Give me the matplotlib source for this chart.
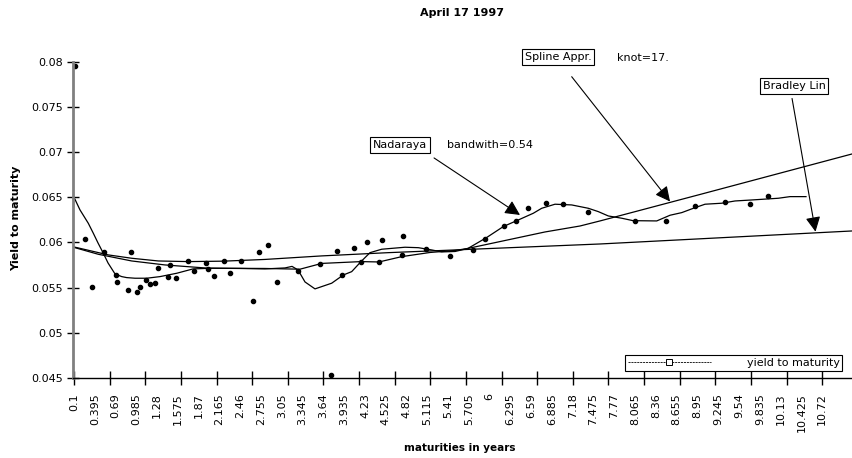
import numpy as np
import matplotlib
matplotlib.use("Agg")
import matplotlib.pyplot as plt
from matplotlib.lines import Line2D

plt.rcParams["font.family"] = ["DejaVu Sans"]

# observed yields (maturity in years, yield)
maturity = [0.118, 0.260, 0.360, 0.526, 0.700, 0.710, 0.867, 0.909, 0.990, 1.041,
            1.122, 1.183, 1.246, 1.292, 1.430, 1.467, 1.552, 1.723, 1.799, 1.978,
            2.007, 2.092, 2.225, 2.310, 2.471, 2.637, 2.731, 2.850, 2.986, 3.276,
            3.588, 3.748, 3.834, 3.909, 4.079, 4.174, 4.255, 4.430, 4.468, 4.756,
            4.775, 5.093, 5.438, 5.769, 5.935, 6.200, 6.370, 6.541, 6.796, 7.046,
            7.401, 8.064, 8.500, 8.920, 9.346, 9.697, 9.948]
ytm = [0.07956, 0.06039, 0.05511, 0.05892, 0.05637, 0.05560, 0.05475, 0.05892, 0.05456, 0.05504,
       0.05585, 0.05541, 0.05555, 0.05721, 0.05615, 0.05751, 0.05611, 0.05792, 0.05685, 0.05770,
       0.05704, 0.05626, 0.05792, 0.05666, 0.05792, 0.05350, 0.05892, 0.05972, 0.05563, 0.05685,
       0.05762, 0.04531, 0.05906, 0.05640, 0.05942, 0.05784, 0.06002, 0.05784, 0.06024, 0.05865,
       0.06072, 0.05928, 0.05854, 0.05917, 0.06035, 0.06179, 0.06238, 0.06385, 0.06440, 0.06429,
       0.06334, 0.06234, 0.06241, 0.06404, 0.06451, 0.06423, 0.06518]

# Nadaraya kernel estimate
nad_x = [0.1, 0.185, 0.303, 0.374, 0.441, 0.516, 0.583, 0.682, 0.777, 0.848,
         0.966, 1.132, 1.321, 1.558, 1.789, 2.055, 2.457, 2.811, 3.095, 3.195,
         3.280, 3.379, 3.521, 3.758, 3.923, 4.042, 4.174, 4.302, 4.468, 4.799,
         4.988, 5.178, 5.320, 5.509, 5.693, 5.959, 6.197, 6.385, 6.620, 6.739,
         6.928, 7.165, 7.401, 7.543, 7.685, 7.875, 8.036, 8.372, 8.561, 8.727,
         8.916, 9.058, 9.295, 9.484, 9.721, 10.098, 10.264, 10.491]
nad_y = [0.06500, 0.06360, 0.06212, 0.06102, 0.05994, 0.05881, 0.05773, 0.05652, 0.05622, 0.05611,
         0.05604, 0.05604, 0.05622, 0.05659, 0.05707, 0.05715, 0.05712, 0.05707, 0.05718, 0.05735,
         0.05696, 0.05563, 0.05486, 0.05549, 0.05640, 0.05677, 0.05788, 0.05887, 0.05925, 0.05947,
         0.05942, 0.05917, 0.05895, 0.05900, 0.05934, 0.06055, 0.06177, 0.06241, 0.06323, 0.06378,
         0.06423, 0.06415, 0.06378, 0.06341, 0.06293, 0.06268, 0.06241, 0.06238, 0.06301, 0.06330,
         0.06385, 0.06423, 0.06434, 0.06459, 0.06470, 0.06489, 0.06507, 0.06507]

# spline approximation
spl_x = [0.1, 0.445, 0.919, 1.392, 2.007, 2.811, 3.308, 3.616, 4.174, 4.430,
         4.752, 5.154, 5.509, 5.693, 6.786, 7.283, 7.567, 8.987, 11.144]
spl_y = [0.05945, 0.05869, 0.05795, 0.05751, 0.05715, 0.05712, 0.05704, 0.05768, 0.05788, 0.05784,
         0.05843, 0.05889, 0.05911, 0.05934, 0.06116, 0.06182, 0.06238, 0.06531, 0.06979]

# Bradley Lin
brad_x = [0.1, 0.587, 0.919, 1.297, 1.723, 2.225, 2.811, 3.616, 4.562, 5.509, 7.567, 11.144]
brad_y = [0.05950, 0.05862, 0.05825, 0.05795, 0.05788, 0.05793, 0.05812, 0.05851, 0.05887, 0.05917,
          0.05983, 0.06127]

x_labels = ["0.1", "0.395", "0.69", "0.985", "1.28", "1.575", "1.87", "2.165", "2.46", "2.755",
            "3.05", "3.345", "3.64", "3.935", "4.23", "4.525", "4.82", "5.115", "5.41", "5.705",
            "6", "6.295", "6.59", "6.885", "7.18", "7.475", "7.77", "8.065", "8.36", "8.655",
            "8.95", "9.245", "9.54", "9.835", "10.13", "10.425", "10.72"]
y_labels = ["0.045", "0.05", "0.055", "0.06", "0.065", "0.07", "0.075", "0.08"]

fig = plt.figure(figsize=(8.52, 4.58), dpi=100)
ax = fig.add_axes([73 / 852, 80 / 458, 779 / 852, 316.3 / 458])
ax.set_xlim(0.0858, 11.144)
ax.set_ylim(0.045, 0.08)

for s in ["top", "right"]:
    ax.spines[s].set_visible(False)
ax.spines["left"].set_color("#808080")
ax.spines["left"].set_linewidth(2)
ax.spines["bottom"].set_linewidth(1)

ax.set_yticks([float(v) for v in y_labels], y_labels)
ax.tick_params(axis="y", direction="inout", length=8, width=1, labelsize=8, pad=3)
ax.set_xticks([float(v) for v in x_labels], x_labels, rotation=90)
ax.tick_params(axis="x", which="major", length=0, pad=11, labelsize=8)
ax.xaxis.remove_overlapping_locs = False
ax.set_xticks(np.linspace(0.1, 10.72, 22), minor=True)
ax.tick_params(axis="x", which="minor", direction="inout", length=10, width=1)

# curves and points
ax.plot(nad_x, nad_y, color="black", lw=0.9)
ax.plot(spl_x, spl_y, color="black", lw=0.9, clip_on=False)
ax.plot(brad_x, brad_y, color="black", lw=0.9, clip_on=False)
ax.plot(maturity, ytm, "o", color="black", ms=3, clip_on=False)

box = dict(boxstyle="square,pad=0.25", fc="white", ec="black", lw=0.8)
arr = dict(arrowstyle="-|>,head_length=0.6,head_width=0.3", color="black",
           lw=0.8, mutation_scale=15, shrinkA=0, shrinkB=0)

def label(x, y, s, boxed=True):
    ax.text(x, y, s, fontsize=8, ha="center" if boxed else "left", va="center",
            bbox=box if boxed else None, clip_on=False)

def arrow(x1, y1, x2, y2):
    ax.annotate("", xy=(x2, y2), xytext=(x1, y1), arrowprops=arr, annotation_clip=False)

label(4.728, 0.0708, "Nadaraya")
label(5.391, 0.0708, "bandwith=0.54", boxed=False)
arrow(5.211, 0.06935, 6.431, 0.06304)

label(6.971, 0.08052, "Spline Appr.")
label(7.804, 0.08041, "knot=17.", boxed=False)
arrow(7.165, 0.07834, 8.561, 0.06453)

label(10.321, 0.07731, "Bradley Lin")
arrow(10.293, 0.07593, 10.626, 0.06119)

# legend
h = Line2D([], [], color="black", lw=0.6, ls=(0, (2.5, 1)), marker="s", ms=5,
           mfc="white", mec="black", mew=0.7)
leg = ax.legend([h], ["yield to maturity"], loc="lower left",
                bbox_to_anchor=(625 / 852, 87 / 458), bbox_transform=fig.transFigure,
                fancybox=False, edgecolor="black", framealpha=1, fontsize=8,
                handlelength=7.5, handletextpad=3.2, borderpad=0.25, borderaxespad=0)
leg.get_frame().set_linewidth(0.8)

fig.text(462 / 852, 1 - 13 / 458, "April 17 1997", fontsize=8, fontweight="bold",
         ha="center", va="center")
ax.set_xlabel("maturities in years", fontsize=7.5, fontweight="bold")
ax.xaxis.set_label_coords(0.497, -0.205)
ax.set_ylabel("Yield to maturity", fontsize=8, fontweight="bold")
ax.yaxis.set_label_coords(-0.066, 0.506)

fig.savefig("out.png", dpi=100)
